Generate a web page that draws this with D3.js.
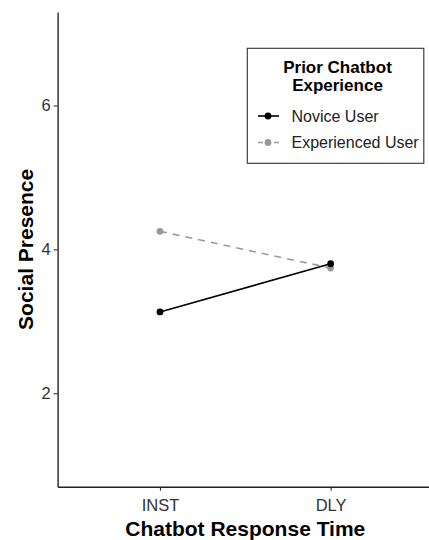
<!DOCTYPE html>
<html>
<head>
<meta charset="utf-8">
<script src="https://cdn.jsdelivr.net/npm/d3@7"></script>
<style>
  body { margin: 0; background: #fff; }
  svg { display: block; font-family: "Liberation Sans", Arial, sans-serif; }
</style>
</head>
<body>
<div id="chart"></div>
<script>
var categories = ["INST", "DLY"];
var seriesNames = ["Novice User", "Experienced User"];
var novice = [3.13, 3.80];
var experienced = [4.25, 3.74];
var yTicks = [2, 4, 6];
var yLimits = [1, 7];

var w = 429, h = 540;
var plotLeft = 57.6, plotTop = 12, plotBottom = 486.7, plotRight = 433;

var svg = d3.select("#chart").append("svg")
  .attr("width", w)
  .attr("height", h);

// ggplot style expansion: 5% on continuous, 0.6 on discrete
var pad = (yLimits[1] - yLimits[0]) * 0.05;
var y = d3.scaleLinear()
  .domain([yLimits[0] - pad, yLimits[1] + pad])
  .range([plotBottom, plotTop]);

var x = d3.scalePoint()
  .domain(categories)
  .range([plotLeft, plotRight])
  .padding(0.6);

var yAxis = svg.append("g")
  .attr("transform", "translate(" + plotLeft + ",0)")
  .call(d3.axisLeft(y).tickValues(yTicks).tickFormat(d3.format("d"))
    .tickSize(4).tickSizeOuter(0).tickPadding(3));

var xAxis = svg.append("g")
  .attr("transform", "translate(0," + plotBottom + ")")
  .call(d3.axisBottom(x).tickSize(4).tickSizeOuter(0).tickPadding(9));

[yAxis, xAxis].forEach(function(g) {
  g.select(".domain").attr("stroke", "#222").attr("stroke-width", 1.4);
  g.selectAll(".tick line").attr("stroke", "#333").attr("stroke-width", 1.1);
  g.selectAll(".tick text")
    .attr("fill", "#333")
    .style("font-size", "16.5px");
});

svg.append("text")
  .attr("x", (plotLeft + plotRight) / 2)
  .attr("y", 536)
  .attr("text-anchor", "middle")
  .style("font-weight", "bold")
  .style("font-size", "21px")
  .attr("fill", "#000")
  .text("Chatbot Response Time");

svg.append("text")
  .attr("transform", "translate(33," + ((plotTop + plotBottom) / 2) + ") rotate(-90)")
  .attr("text-anchor", "middle")
  .style("font-weight", "bold")
  .style("font-size", "21px")
  .attr("fill", "#000")
  .text("Social Presence");

var series = [
  { name: seriesNames[0], values: novice, color: "#000", dash: null },
  { name: seriesNames[1], values: experienced, color: "#999", dash: "7,6" }
];

var line = d3.line()
  .x(function(d, i) { return x(categories[i]); })
  .y(function(d) { return y(d); });

// draw experienced first so novice sits on top
series.slice().reverse().forEach(function(s) {
  svg.append("path")
    .datum(s.values)
    .attr("d", line)
    .attr("fill", "none")
    .attr("stroke", s.color)
    .attr("stroke-width", 1.6)
    .attr("stroke-dasharray", s.dash);
  svg.selectAll(null)
    .data(s.values)
    .enter()
    .append("circle")
    .attr("cx", function(d, i) { return x(categories[i]); })
    .attr("cy", function(d) { return y(d); })
    .attr("r", 3.4)
    .attr("fill", s.color);
});

// legend
var legend = svg.append("g");
legend.append("rect")
  .attr("x", 247.3)
  .attr("y", 48.3)
  .attr("width", 176.5)
  .attr("height", 115)
  .attr("fill", "#fff")
  .attr("stroke", "#333")
  .attr("stroke-width", 1.1);

legend.append("text")
  .attr("x", 337.5)
  .attr("y", 72.5)
  .attr("text-anchor", "middle")
  .style("font-weight", "bold")
  .style("font-size", "17px")
  .text("Prior Chatbot");
legend.append("text")
  .attr("x", 337.5)
  .attr("y", 91)
  .attr("text-anchor", "middle")
  .style("font-weight", "bold")
  .style("font-size", "17px")
  .text("Experience");

var items = legend.selectAll("g.item")
  .data(series)
  .enter()
  .append("g")
  .attr("class", "item")
  .attr("transform", function(d, i) { return "translate(0," + (116 + i * 26.5) + ")"; });

items.append("line")
  .attr("x1", 258).attr("x2", 279)
  .attr("stroke", function(d) { return d.color; })
  .attr("stroke-width", 1.6)
  .attr("stroke-dasharray", function(d) { return d.dash ? "5,3" : null; });
items.append("circle")
  .attr("cx", 268)
  .attr("r", 3.4)
  .attr("fill", function(d) { return d.color; });
items.append("text")
  .attr("x", 291.5)
  .attr("y", 5.5)
  .style("font-size", "16px")
  .attr("fill", "#222")
  .text(function(d) { return d.name; });
</script>
</body>
</html>
